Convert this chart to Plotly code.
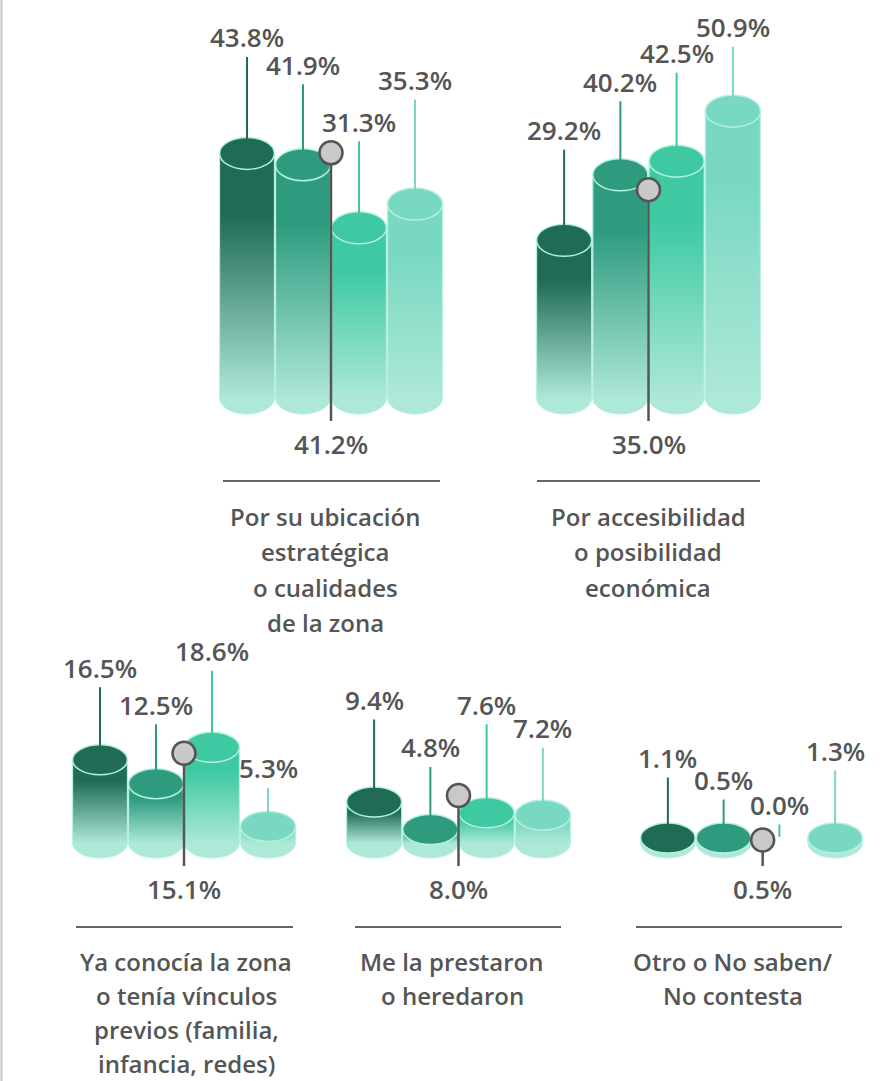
import plotly.graph_objects as go

# ---------------- data ----------------
CATEGORIES = [
    ["Por su ubicación", "estratégica", "o cualidades", "de la zona"],
    ["Por accesibilidad", "o posibilidad", "económica"],
    ["Ya conocía la zona", "o tenía vínculos", "previos (familia,", "infancia, redes)"],
    ["Me la prestaron", "o heredaron"],
    ["Otro o No saben/", "No contesta"],
]
SERIES_1 = [43.8, 29.2, 16.5, 9.4, 1.1]
SERIES_2 = [41.9, 40.2, 12.5, 4.8, 0.5]
SERIES_3 = [31.3, 42.5, 18.6, 7.6, 0.0]
SERIES_4 = [35.3, 50.9, 5.3, 7.2, 1.3]
MARKER_SERIES = [41.2, 35.0, 15.1, 8.0, 0.5]

# ---------------- layout / style ----------------
W, H = 889, 1081
K = 5.95                      # pixels per percentage point
ROW_BASE = [398, 843]         # pixel y of 0 % in each row
GROUP_ROW = [0, 0, 1, 1, 1]
GROUP_SPAN = [(219, 443), (536, 761), (72, 296), (346, 571), (640, 863)]
MARKER_DX = [0, 0, 0, 0, 0.2]
SEP_SPAN = [(223, 440), (537, 760), (76, 293), (355, 561), (636, 842)]
SEP_Y = [481, 927]
LABEL_CX = [325, 648, 186, 452, 733]
LABEL_Y0 = [516, 961]
LINE_GAP = [35.5, 34.3]
LABEL_DY = [
    [-100, -84, -90, -108],
    [-94, -77, -92, -68],
    [-77, -64, -81, -43],
    [-87, -67, -93, -72],
    [-65, -43, -38, -72],
]
COLORS = ["#1f6b55", "#2e9b7f", "#3ec9a2", "#79d8c1"]
LIGHT = "#ade8d8"
RIM = "#b6f0df"
TEXT = "#555555"
FONT = "Open Sans"
HALF = 0.49
VAL_SIZE = 26
CAT_SIZE = 24

series = [SERIES_1, SERIES_2, SERIES_3, SERIES_4]

fig = go.Figure()
shapes_below, shapes_caps, shapes_marks, annotations = [], [], [], []

layout_axes = {}
for r, base in enumerate(ROW_BASE):
    name = "yaxis" if r == 0 else "yaxis2"
    layout_axes[name] = dict(range=[-(H - base) / K, base / K], domain=[0, 1],
                             visible=False, fixedrange=True,
                             anchor="x" if r == 0 else "x3")

for g, (x0p, x1p) in enumerate(GROUP_SPAN):
    r = GROUP_ROW[g]
    xa = "x" if g == 0 else f"x{g+1}"
    ya = "y" if r == 0 else "y2"
    layout_axes["xaxis" if g == 0 else f"xaxis{g+1}"] = dict(
        range=[-0.5, 3.5], domain=[x0p / W, x1p / W], visible=False,
        fixedrange=True, anchor=ya)
    ry = 16 if r == 0 else 15

    for i in range(4):
        v = series[i][g]
        c = COLORS[i]
        if v > 0:
            top = max(v, (ry + 5) / K)
            cc = top - ry / K
            # bottom ellipse
            shapes_below.append(dict(
                type="circle", xref=xa, yref=ya, layer="below",
                x0=i - HALF, x1=i + HALF, ysizemode="pixel", yanchor=0,
                y0=-ry, y1=ry, fillcolor=LIGHT, line=dict(color=RIM, width=1)))
            # body with gradient
            fig.add_trace(go.Scatter(
                x=[i - HALF, i + HALF, i + HALF, i - HALF, i - HALF],
                y=[0, 0, cc, cc, 0], xaxis=xa, yaxis=ya, mode="lines",
                line=dict(width=0), fill="toself",
                fillgradient=dict(type="vertical",
                                  colorscale=[[0, LIGHT], [0.75, c], [1, c]]),
                hoverinfo="skip", showlegend=False))
            fig.add_trace(go.Scatter(
                x=[i - HALF, i - HALF, None, i + HALF, i + HALF],
                y=[0, cc, None, 0, cc], xaxis=xa, yaxis=ya, mode="lines",
                line=dict(width=1.2, color=RIM), hoverinfo="skip",
                showlegend=False))
            # top cap
            shapes_caps.append(dict(
                type="circle", xref=xa, yref=ya, layer="above",
                x0=i - HALF, x1=i + HALF, ysizemode="pixel", yanchor=cc,
                y0=-ry, y1=ry, fillcolor=c, line=dict(color=RIM, width=1.5)))
            annotations.append(dict(
                x=i, y=cc, xref=xa, yref=ya, text=f"{v:.1f}%",
                showarrow=True, arrowhead=0, arrowwidth=2, arrowcolor=c,
                ax=0, ay=LABEL_DY[g][i] - ry, standoff=ry - 5,
                font=dict(family=FONT, size=VAL_SIZE, color=TEXT, weight=600)))
        else:
            annotations.append(dict(
                x=i, y=0, xref=xa, yref=ya, text=f"{v:.1f}%",
                showarrow=True, arrowhead=0, arrowwidth=2, arrowcolor=c,
                ax=0, ay=LABEL_DY[g][i], standoff=6,
                font=dict(family=FONT, size=VAL_SIZE, color=TEXT, weight=600)))

    # marker series (gray lollipop)
    m = MARKER_SERIES[g]
    mx = 1.5 + MARKER_DX[g]
    shapes_marks.append(dict(
        type="line", xref=xa, yref=ya, layer="above",
        x0=mx, x1=mx, y0=m, y1=-23 / K, line=dict(color="#555555", width=2.5)))
    shapes_marks.append(dict(
        type="circle", xref=xa, yref=ya, layer="above",
        xsizemode="pixel", ysizemode="pixel", xanchor=mx, yanchor=m,
        x0=-11.5, x1=11.5, y0=-11.5, y1=11.5,
        fillcolor="#c9c9c9", line=dict(color="#555555", width=2.5)))
    annotations.append(dict(
        x=mx, y=0, xref=xa, yref=ya, text=f"{m:.1f}%", showarrow=False,
        yshift=-46, yanchor="middle",
        font=dict(family=FONT, size=VAL_SIZE, color=TEXT, weight=600)))

    # separator + category label
    sx0, sx1 = SEP_SPAN[g]
    sy = 1 - SEP_Y[r] / H
    shapes_marks.append(dict(type="line", xref="paper", yref="paper",
                             x0=sx0 / W, x1=sx1 / W, y0=sy, y1=sy,
                             line=dict(color="#666666", width=2)))
    for li, txt in enumerate(CATEGORIES[g]):
        annotations.append(dict(
            x=LABEL_CX[g] / W, y=1 - (LABEL_Y0[r] + li * LINE_GAP[r]) / H,
            xref="paper", yref="paper", text=txt, showarrow=False,
            xanchor="center", yanchor="middle",
            font=dict(family=FONT, size=CAT_SIZE, color=TEXT, weight=600)))

# thin frame line on the left
shapes_marks.append(dict(type="line", xref="paper", yref="paper",
                         x0=1.5 / W, x1=1.5 / W, y0=0, y1=1,
                         line=dict(color="#c4c4c4", width=2)))

fig.update_layout(
    width=W, height=H, margin=dict(l=0, r=0, t=0, b=0),
    paper_bgcolor="white", plot_bgcolor="rgba(0,0,0,0)",
    showlegend=False,
    shapes=shapes_below + shapes_caps + shapes_marks,
    annotations=annotations,
    **layout_axes,
)

fig.write_html("out.html", config={"displayModeBar": False},
               post_script="document.body.style.margin='0px';"
                           "document.body.style.overflow='hidden';")
